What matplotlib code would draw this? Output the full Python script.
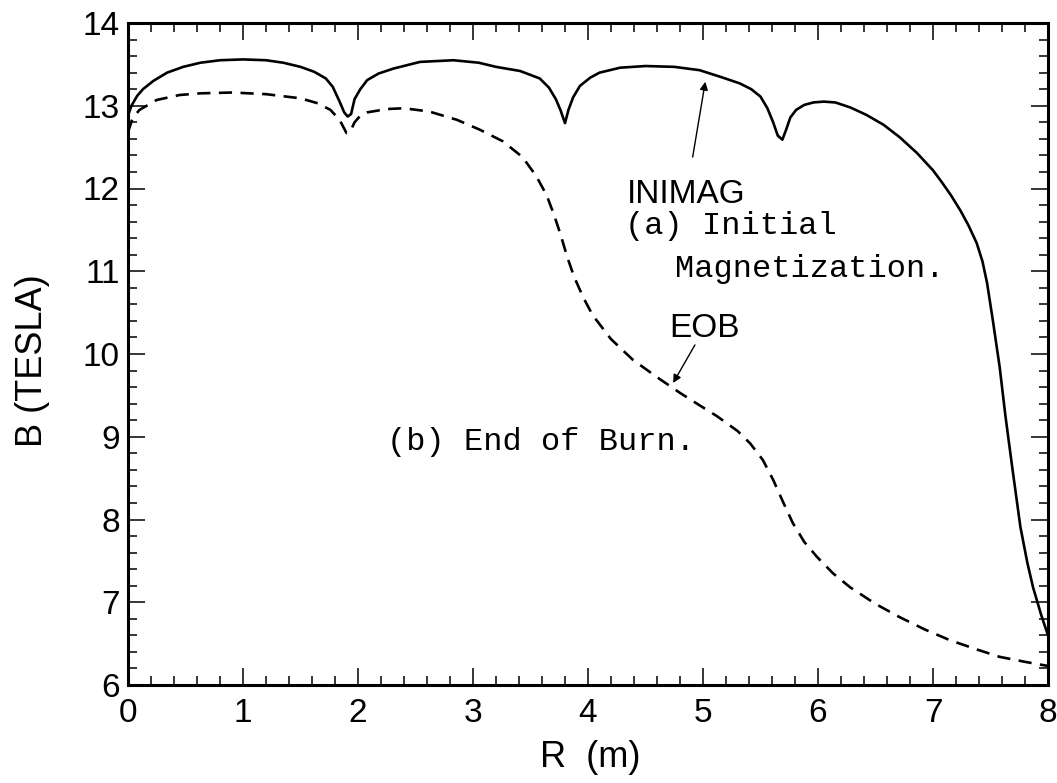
import numpy as np
import matplotlib.pyplot as plt
from matplotlib.ticker import MultipleLocator

# (a) initial magnetization, solid line
r_inimag = [0.0, 0.03, 0.08, 0.13, 0.22, 0.34, 0.48, 0.63, 0.8, 1.0, 1.2, 1.35, 1.5, 1.62,
            1.72, 1.78, 1.84, 1.88, 1.91, 1.94, 1.97, 2.02, 2.08, 2.18, 2.31, 2.54, 2.83,
            3.05, 3.2, 3.41, 3.58, 3.66, 3.72, 3.76, 3.80, 3.83, 3.87, 3.93, 4.02, 4.10,
            4.28, 4.5, 4.75, 4.97, 5.15, 5.32, 5.42, 5.50, 5.56, 5.61, 5.65, 5.69, 5.72,
            5.76, 5.81, 5.88, 5.96, 6.05, 6.15, 6.28, 6.42, 6.57, 6.71, 6.86, 7.0, 7.08,
            7.16, 7.24, 7.31, 7.38, 7.43, 7.47, 7.52, 7.58, 7.63, 7.69, 7.76, 7.82, 7.87,
            7.94, 8.0]
b_inimag = [12.88, 13.0, 13.12, 13.2, 13.3, 13.4, 13.47, 13.52, 13.55, 13.56, 13.55, 13.52,
            13.47, 13.41, 13.33, 13.23, 13.05, 12.92, 12.87, 12.9, 13.08, 13.2, 13.31, 13.39,
            13.45, 13.53, 13.55, 13.52, 13.47, 13.42, 13.33, 13.22, 13.08, 12.95, 12.79,
            12.95, 13.1, 13.24, 13.34, 13.40, 13.46, 13.48, 13.47, 13.43, 13.35, 13.27,
            13.2, 13.11, 12.97, 12.8, 12.64, 12.59, 12.7, 12.86, 12.95, 13.01, 13.04, 13.05,
            13.04, 12.98, 12.89, 12.77, 12.62, 12.43, 12.22, 12.07, 11.91, 11.73, 11.55,
            11.34, 11.12, 10.86, 10.41, 9.84, 9.25, 8.62, 7.91, 7.48, 7.18, 6.85, 6.6]

# (b) end of burn, dashed line
r_eob = [0.0, 0.04, 0.1, 0.25, 0.45, 0.63, 0.91, 1.2, 1.5, 1.65, 1.76, 1.84, 1.9, 1.93,
         1.97, 2.02, 2.08, 2.25, 2.4, 2.62, 2.86, 3.06, 3.26, 3.43, 3.55, 3.64, 3.70, 3.76,
         3.82, 3.88, 3.96, 4.04, 4.2, 4.39, 4.6, 4.8, 4.97, 5.12, 5.3, 5.41, 5.52, 5.61,
         5.7, 5.78, 5.88, 5.99, 6.13, 6.28, 6.5, 6.71, 6.93, 7.15, 7.38, 7.58, 7.8, 8.0]
b_eob = [12.68, 12.85, 12.95, 13.07, 13.13, 13.15, 13.16, 13.14, 13.09, 13.03, 12.95, 12.83,
         12.67, 12.68, 12.8, 12.88, 12.92, 12.96, 12.97, 12.93, 12.83, 12.71, 12.57, 12.38,
         12.15, 11.92, 11.70, 11.45, 11.17, 10.93, 10.68, 10.47, 10.18, 9.93, 9.72, 9.53,
         9.38, 9.25, 9.07, 8.92, 8.72, 8.48, 8.2, 7.96, 7.73, 7.55, 7.35, 7.18, 6.98, 6.82,
         6.67, 6.54, 6.43, 6.34, 6.28, 6.23]

x_ticks = [0, 1, 2, 3, 4, 5, 6, 7, 8]
y_ticks = [6, 7, 8, 9, 10, 11, 12, 13, 14]

sans = ['Liberation Sans', 'DejaVu Sans']
mono = ['Liberation Mono', 'DejaVu Sans Mono']

fig = plt.figure(figsize=(10.57, 7.83), dpi=100)
ax = fig.add_axes([128 / 1057, 1 - 685 / 783, 920 / 1057, 662 / 783])

ax.plot(r_inimag, b_inimag, color='black', lw=1.9)
ax.plot(r_eob, b_eob, color='black', lw=1.9, ls=(0, (5, 3.2)))

ax.set_xlim(0, 8)
ax.set_ylim(6, 14)
ax.set_xticks(x_ticks)
ax.set_yticks(y_ticks)
ax.xaxis.set_minor_locator(MultipleLocator(0.2))
ax.yaxis.set_minor_locator(MultipleLocator(0.2))
ax.tick_params(which='both', direction='in', top=True, right=True, width=1.1, color='black')
ax.tick_params(which='major', length=12)
ax.tick_params(which='minor', length=6.5)
ax.tick_params(axis='x', which='major', pad=9)
ax.tick_params(axis='y', which='major', pad=6)
for s in ax.spines.values():
    s.set_linewidth(2.2)

for lab in ax.get_xticklabels() + ax.get_yticklabels():
    lab.set_family(sans)
    lab.set_fontsize(24)

ax.set_xlabel('R  (m)', family=sans, fontsize=26)
ax.set_ylabel('B (TESLA)', family=sans, fontsize=26)
ax.xaxis.set_label_coords(0.502, -0.083)
ax.yaxis.set_label_coords(-0.085, 0.49)

# annotations
ax.text(4.34, 11.82, 'INIMAG', family=sans, fontsize=24, va='baseline', ha='left')
ax.text(4.32, 11.45, '(a) Initial', family=mono, fontsize=23, va='baseline', ha='left')
ax.text(4.76, 10.93, 'Magnetization.', family=mono, fontsize=23, va='baseline', ha='left')
ax.text(4.71, 10.2, 'EOB', family=sans, fontsize=24, va='baseline', ha='left')
ax.text(2.25, 8.84, '(b) End of Burn.', family=mono, fontsize=23, va='baseline', ha='left')

arrow = dict(arrowstyle='-|>', color='black', lw=1.0, mutation_scale=12, shrinkA=0, shrinkB=0)
ax.annotate('', xy=(5.02, 13.29), xytext=(4.91, 12.38), arrowprops=arrow)
ax.annotate('', xy=(4.74, 9.65), xytext=(4.93, 10.11), arrowprops=arrow)

fig.savefig('out.png', dpi=100)
